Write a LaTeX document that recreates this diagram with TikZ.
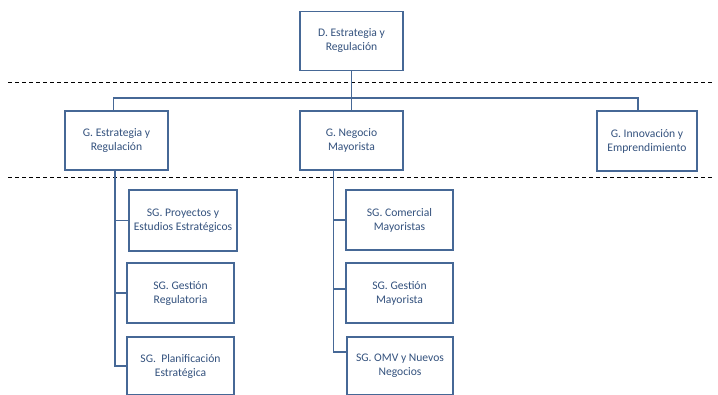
\documentclass[tikz,border=0pt]{standalone}
\usepackage{fontspec}
\setmainfont{Carlito}
\definecolor{orgline}{RGB}{70,104,150}
\definecolor{orgtext}{RGB}{52,82,126}

\begin{document}
\begin{tikzpicture}[x=1pt,y=-1pt,
    unit/.style={draw=orgline,line width=1.4pt,fill=white,text=orgtext,align=center,
      inner sep=0pt,font=\fontsize{11.6}{14}\selectfont},
    link/.style={draw=orgline,line width=1.4pt},
    sep/.style={line width=0.9pt,dash pattern=on 4pt off 3pt}]
        \useasboundingbox (0,0) rectangle (718,394);
        \clip (0,0) rectangle (718,394);

        % separadores
        \draw[sep] (8,82) -- (714,82);
        \draw[sep] (8,177) -- (714,177);

        % direccion
        \node[unit,minimum width=103pt,minimum height=59pt] (dir) at (351.5,41) {D. Estrategia y\\Regulación};

        % gerencias
        \node[unit,minimum width=103pt,minimum height=59pt] (gEst) at (116.5,140.5) {G. Estrategia y\\Regulación};
        \node[unit,minimum width=103pt,minimum height=59pt] (gNeg) at (351.5,140.5) {G. Negocio\\Mayorista};
        \node[unit,minimum width=100pt,minimum height=60pt] (gInn) at (647,141) {G. Innovación y\\Emprendimiento};

        % subgerencias
        \node[unit,minimum width=108pt,minimum height=61pt] (sg1) at (183,220.5) {SG. Proyectos y\\Estudios Estratégicos};
        \node[unit,minimum width=107pt,minimum height=60pt] (sg2) at (180.5,293) {SG. Gestión\\Regulatoria};
        \node[unit,minimum width=107pt,minimum height=58pt] (sg3) at (180.5,366) {SG.~~Planificación\\Estratégica};

        \node[unit,minimum width=107pt,minimum height=60pt] (sm1) at (399.5,220) {SG. Comercial\\Mayoristas};
        \node[unit,minimum width=107pt,minimum height=60pt] (sm2) at (399.5,293) {SG. Gestión\\Mayorista};
        \node[unit,minimum width=106pt,minimum height=58pt] (sm3) at (400,366) {SG. OMV y Nuevos\\Negocios};

        % conexiones
        \coordinate (bus) at (353,98);
        \draw[link] (dir.south) -- (gNeg.north);
        \draw[link] ([xshift=-3pt]gEst.north) |- (bus) -| ([xshift=-9pt]gInn.north);

        \coordinate (estbus) at ([xshift=-1.5pt]gEst.south);
        \draw[link] (estbus) |- (sg3.west);
        \draw[link] (estbus |- sg1.west) -- (sg1.west);
        \draw[link] (estbus |- sg2.west) -- (sg2.west);

        \coordinate (negbus) at ([xshift=-18pt]gNeg.south);
        \draw[link] (negbus) |- ([yshift=14pt]sm3.west);
        \draw[link] (negbus |- sm1.west) -- (sm1.west);
        \draw[link] ([yshift=4pt]negbus |- sm2.west) -- ([yshift=4pt]sm2.west);

    \end{tikzpicture}
\end{document}
